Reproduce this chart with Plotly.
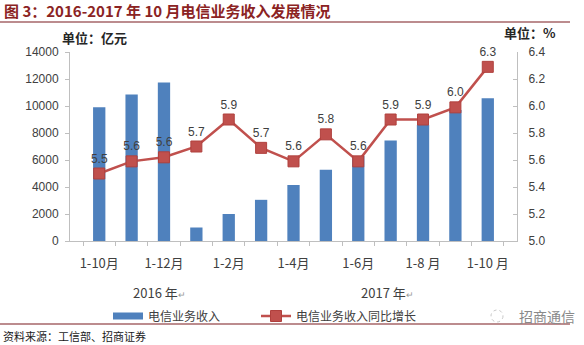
import plotly.graph_objects as go

# ---- data ----
categories = ["2016-1-10", "2016-1-11", "2016-1-12", "2017-1-1", "2017-1-2", "2017-1-3",
              "2017-1-4", "2017-1-5", "2017-1-6", "2017-1-7", "2017-1-8", "2017-1-9", "2017-1-10"]
tick_labels = ["1-10月", "", "1-12月", "", "1-2月", "", "1-4月", "", "1-6月", "", "1-8 月", "", "1-10 月"]
revenue = [9900, 10850, 11750, 1000, 2000, 3050, 4150, 5280, 6300, 7450, 8600, 9700, 10580]
growth = [5.50, 5.59, 5.62, 5.70, 5.90, 5.69, 5.59, 5.79, 5.59, 5.90, 5.90, 5.99, 6.29]
bar_name = "电信业务收入"
line_name = "电信业务收入同比增长"

W, H = 584, 345
L, R, T, B = 70, 517, 52, 241


def px(x):
    return (x - L) / (R - L)


def py(y):
    return (B - y) / (B - T)


FONT = "Liberation Sans, Noto Sans CJK SC, sans-serif"
CJK = "Noto Sans CJK SC, sans-serif"
GRAY = "#404040"
AXIS = "#BFBFBF"
DARKRED = "#7B1A1F"
BLUE = "#4F81BD"
RED = "#C0504D"

fig = go.Figure()
fig.add_trace(go.Bar(
    x=categories, y=revenue, name=bar_name,
    marker=dict(color=BLUE, line=dict(width=0)),
    yaxis="y", showlegend=False,
))
# legend-only entry to show the bar key as a wide rectangle
fig.add_trace(go.Scatter(
    x=[None], y=[None], name=bar_name, mode="lines",
    line=dict(color=BLUE, width=7), legend="legend", hoverinfo="skip",
))
fig.add_trace(go.Scatter(
    x=categories, y=growth, name=line_name, yaxis="y2",
    mode="lines+markers+text",
    line=dict(color=RED, width=2.5),
    marker=dict(symbol="square", size=11, color=RED, line=dict(color="#B0403D", width=1)),
    texttemplate="%{y:.1f}", textposition="top center",
    textfont=dict(family=FONT, size=12, color=GRAY),
    cliponaxis=False, legend="legend2",
))

leg_common = dict(
    orientation="h", yanchor="middle",
    font=dict(family=CJK, size=12, color=GRAY), bgcolor="rgba(0,0,0,0)",
)

fig.update_layout(
    width=W, height=H,
    margin=dict(l=L, r=W - R, t=T, b=H - B, pad=0),
    plot_bgcolor="white", paper_bgcolor="white",
    bargap=0.62,
    font=dict(family=FONT, size=12, color=GRAY),
    xaxis=dict(
        type="category", tickmode="array", tickvals=categories, ticktext=tick_labels,
        tickson="boundaries", ticks="outside", ticklen=4, tickcolor=AXIS, tickangle=0,
        ticklabelstandoff=10,
        showline=True, linecolor=AXIS, linewidth=1, showgrid=False,
        tickfont=dict(family=CJK, size=13, color=GRAY),
    ),
    yaxis=dict(
        range=[0, 14000], dtick=2000, tickformat="d",
        ticks="outside", ticklen=4, tickcolor=AXIS, ticklabelstandoff=4,
        showline=True, linecolor=AXIS, linewidth=1, showgrid=False, zeroline=False,
        tickfont=dict(family=FONT, size=12, color=GRAY),
    ),
    yaxis2=dict(
        range=[5.0, 6.4], dtick=0.2, tickformat=".1f", overlaying="y", side="right",
        ticks="inside", ticklen=4, tickcolor=AXIS, ticklabelstandoff=8,
        showline=True, linecolor=AXIS, linewidth=1, showgrid=False, zeroline=False,
        tickfont=dict(family=FONT, size=12, color=GRAY),
    ),
    legend=dict(x=px(108), y=py(316), xanchor="left", **leg_common),
    legend2=dict(x=px(256), y=py(316), xanchor="left", **leg_common),
    showlegend=True,
)

annotations = [
    dict(text="<b>图 3：2016-2017 年 10 月电信业务收入发展情况</b>", x=px(2), y=py(11),
         xanchor="left", yanchor="middle", font=dict(family=CJK, size=15, color="#8B2323")),
    dict(text="<b>单位：亿元</b>", x=px(60), y=py(37), xanchor="left", yanchor="middle",
         font=dict(family=CJK, size=13, color="#262626")),
    dict(text="<b>单位：%</b>", x=px(502), y=py(32), xanchor="left", yanchor="middle",
         font=dict(family=CJK, size=13, color="#262626")),
    dict(text="2016 年<span style='font-size:9px;color:#999'>↵</span>", x=px(131), y=py(292),
         xanchor="left", yanchor="middle", font=dict(family=CJK, size=13, color=GRAY)),
    dict(text="2017 年<span style='font-size:9px;color:#999'>↵</span>", x=px(359), y=py(292),
         xanchor="left", yanchor="middle", font=dict(family=CJK, size=13, color=GRAY)),
    dict(text="招商通信", x=px(577), y=py(316), xanchor="right", yanchor="middle",
         font=dict(family=CJK, size=14, color="#8A8A8A")),
    dict(text="资料来源：工信部、招商证券", x=px(1), y=py(336), xanchor="left", yanchor="middle",
         font=dict(family=CJK, size=11, color="#1a1a1a")),
]
for a in annotations:
    a.update(xref="paper", yref="paper", showarrow=False)
fig.update_layout(annotations=annotations)

shapes = [
    dict(type="line", x0=px(0), x1=px(570), y0=py(22), y1=py(22), line=dict(color=DARKRED, width=1.2)),
    dict(type="line", x0=px(0), x1=px(570), y0=py(324), y1=py(324), line=dict(color=DARKRED, width=1.2)),
    dict(type="circle", x0=px(491), x1=px(503), y0=py(322), y1=py(310),
         line=dict(color="#C8C8C8", width=1, dash="dot")),
]
for s in shapes:
    s.update(xref="paper", yref="paper")
fig.update_layout(shapes=shapes)

fig.write_html("out.html")
